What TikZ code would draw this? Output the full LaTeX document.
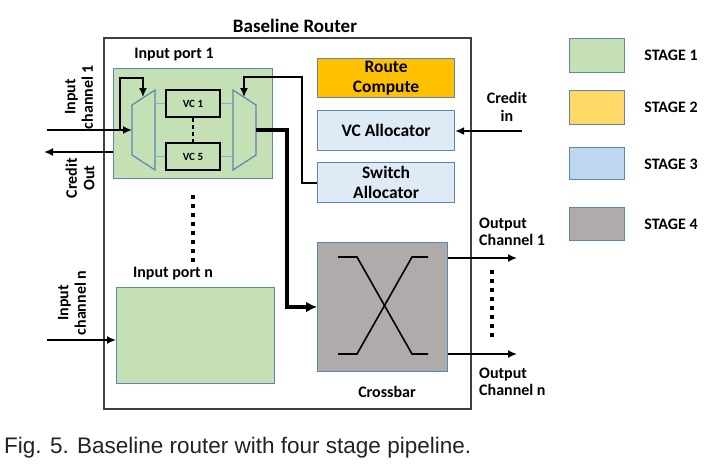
\documentclass[tikz,border=0pt]{standalone}
\usepackage{fontspec}
\setmainfont{Carlito}
\newfontfamily\capfont{Liberation Sans}
\usetikzlibrary{arrows.meta}
\definecolor{sone}{HTML}{C5E0B4}
\definecolor{stwo}{HTML}{FFD966}
\definecolor{sthree}{HTML}{BDD7EE}
\definecolor{sfour}{HTML}{AFABAB}
\definecolor{rcfill}{HTML}{FFC000}
\definecolor{allocfill}{HTML}{DEEBF7}
\definecolor{bord}{HTML}{5A86B6}
\definecolor{vcline}{HTML}{7FB2DE}
\definecolor{outer}{HTML}{404040}
\definecolor{captxt}{HTML}{222222}
\tikzset{
  blk/.style={draw=bord, line width=1.2pt, rectangle, inner sep=0pt, anchor=north west},
  lbl/.style={font=\fontsize{16}{17.5}\selectfont\bfseries, text=black, inner sep=0pt},
  big/.style={font=\fontsize{17.5}{20}\selectfont\bfseries, text=black, align=center},
  small/.style={font=\fontsize{11}{12}\selectfont\bfseries, text=black},
  conn/.style={line width=1.6pt, black},
  arr/.style={conn, -{Latex[length=9pt,width=8pt]}},
  thick arr/.style={line width=3.5pt, black, -{Latex[length=11pt,width=11pt]}},
  dotcol/.style={line width=3.5pt, black, dash pattern=on 3.5pt off 5.5pt},
  mux/.style={draw=bord, line width=1.2pt},
}
\begin{document}
\begin{tikzpicture}[x=1pt, y=-1pt]
\useasboundingbox (0,0) rectangle (715,467);
% outer router
\node[draw=outer, line width=1.6pt, rectangle, inner sep=0pt, anchor=north west,
      minimum width=367pt, minimum height=371pt] (router) at (103,37) {};
\node[font=\fontsize{19}{21}\selectfont\bfseries] (title) at (295,26) {Baseline Router};

% input port 1
\node[blk, fill=sone, minimum width=159pt, minimum height=110pt] (ip1) at (113,68) {};
\node[lbl] (ip1l) at (174,55) {Input port 1};
% muxes
\coordinate (lm1) at (132,105); \coordinate (lm2) at (155,90);
\coordinate (lm3) at (155,170); \coordinate (lm4) at (132,155);
\draw[mux] (lm1) -- (lm2) -- (lm3) -- (lm4) -- cycle;
\coordinate (rm1) at (233,90); \coordinate (rm2) at (256,105);
\coordinate (rm3) at (256,155); \coordinate (rm4) at (233,170);
\draw[mux] (rm1) -- (rm2) -- (rm3) -- (rm4) -- cycle;
% VC buffers
\node[draw=black, line width=1.4pt, rectangle, inner sep=0pt, minimum width=54pt, minimum height=27pt, small] (vc1) at (193,103.5) {VC 1};
\node[draw=black, line width=1.4pt, rectangle, inner sep=0pt, minimum width=54pt, minimum height=27pt, small] (vc5) at (193,156.5) {VC 5};
\draw[black, line width=1.4pt, dash pattern=on 4pt off 3pt] (vc1.south) -- (vc5.north);
\draw[vcline, line width=1.2pt] (155,103.5) -- (vc1.west);
\draw[vcline, line width=1.2pt] (vc1.east) -- (233,103.5);
\draw[vcline, line width=1.2pt] (155,156.5) -- (vc5.west);
\draw[vcline, line width=1.2pt] (vc5.east) -- (233,156.5);

% left side channels
\coordinate (inc1) at (47,130);
\coordinate (lmin) at (132,130);
\draw[arr] (inc1) -- (lmin);
\coordinate (fbl) at (120,130);
\coordinate (fblend) at (143,97);
\draw[arr] (fbl) -- (120,78) -- (143,78) -- (fblend);
\coordinate (crout) at (44,152);
\draw[arr] (ip1.west |- crout) -- (crout);
\node[lbl, rotate=90, align=center] (inc1l) at (79,97) {Input\\channel 1};
\node[lbl, rotate=90, align=center] (croutl) at (80,178) {Credit\\Out};

% control blocks
\node[blk, fill=rcfill, minimum width=137pt, minimum height=39pt] (rc) at (317,58) {};
\node[big] at (rc.center) {Route\\Compute};
\node[blk, fill=allocfill, minimum width=137pt, minimum height=40pt] (vca) at (317,110) {};
\node[big] at (vca.center) {VC Allocator};
\node[blk, fill=allocfill, minimum width=137pt, minimum height=40pt] (swa) at (317,162) {};
\node[big] at (swa.center) {Switch\\Allocator};

% credit in
\coordinate (crin) at (522,131);
\draw[arr] (crin) -- (vca.east |- crin);
\node[lbl, align=center] (crinl) at (507,107) {Credit\\in};

% feedback from switch allocator
\coordinate (fbrend) at (244,97);
\draw[arr] (swa.west |- 0,183) -- (302,183) -- (302,77) -- (244,77) -- (fbrend);

% crossbar
\node[blk, fill=sfour, minimum width=130pt, minimum height=129pt] (xb) at (317,242) {};
\node[lbl] (xbl) at (387,392) {Crossbar};
\draw[conn] (338,257) -- (357,257) -- (412,354) -- (428,354);
\draw[conn] (428,257) -- (412,257) -- (357,354) -- (338,354);

% thick output of input port
\draw[thick arr] (256,130) -- (287,130) -- (287,307) -- (xb.west |- 0,307);

% output channels
\coordinate (oc1) at (517,258);
\coordinate (ocn) at (517,354);
\draw[arr] (xb.east |- oc1) -- (oc1);
\draw[arr] (xb.east |- ocn) -- (ocn);
\draw[dotcol] (492,270) -- (492,339);
\node[lbl, align=left, anchor=west] (oc1l) at (479,232) {Output\\Channel 1};
\node[lbl, align=left, anchor=west] (ocnl) at (479,382) {Output\\Channel n};

% ports dots
\draw[dotcol] (193,195) -- (193,264);

% input port n
\node[blk, fill=sone, minimum width=158pt, minimum height=96pt] (ipn) at (116,287) {};
\node[lbl] (ipnl) at (173,274) {Input port n};
\coordinate (incn) at (47,340);
\draw[arr] (incn) -- (ipn.west |- incn);
\node[lbl, rotate=90, align=center] (incnl) at (72,303) {Input\\channel n};

% legend
\node[blk, fill=sone, minimum width=55pt, minimum height=34pt] (lg1) at (569,38) {};
\node[blk, fill=stwo, minimum width=55pt, minimum height=34pt] (lg2) at (569,90) {};
\node[blk, fill=sthree, minimum width=55pt, minimum height=32pt] (lg3) at (569,147) {};
\node[blk, fill=sfour, minimum width=55pt, minimum height=33pt] (lg4) at (569,207) {};
\node[lbl] (lg1l) at (671,55) {STAGE 1};
\node[lbl] (lg2l) at (671,107) {STAGE 2};
\node[lbl] (lg3l) at (671,164) {STAGE 3};
\node[lbl] (lg4l) at (671,224) {STAGE 4};

% caption
\node[font=\capfont\fontsize{22.5}{26}\selectfont, text=captxt, anchor=base west, inner sep=0pt] (cap) at (4,453) {Fig. 5. Baseline router with four stage pipeline.};
\end{tikzpicture}
\end{document}
